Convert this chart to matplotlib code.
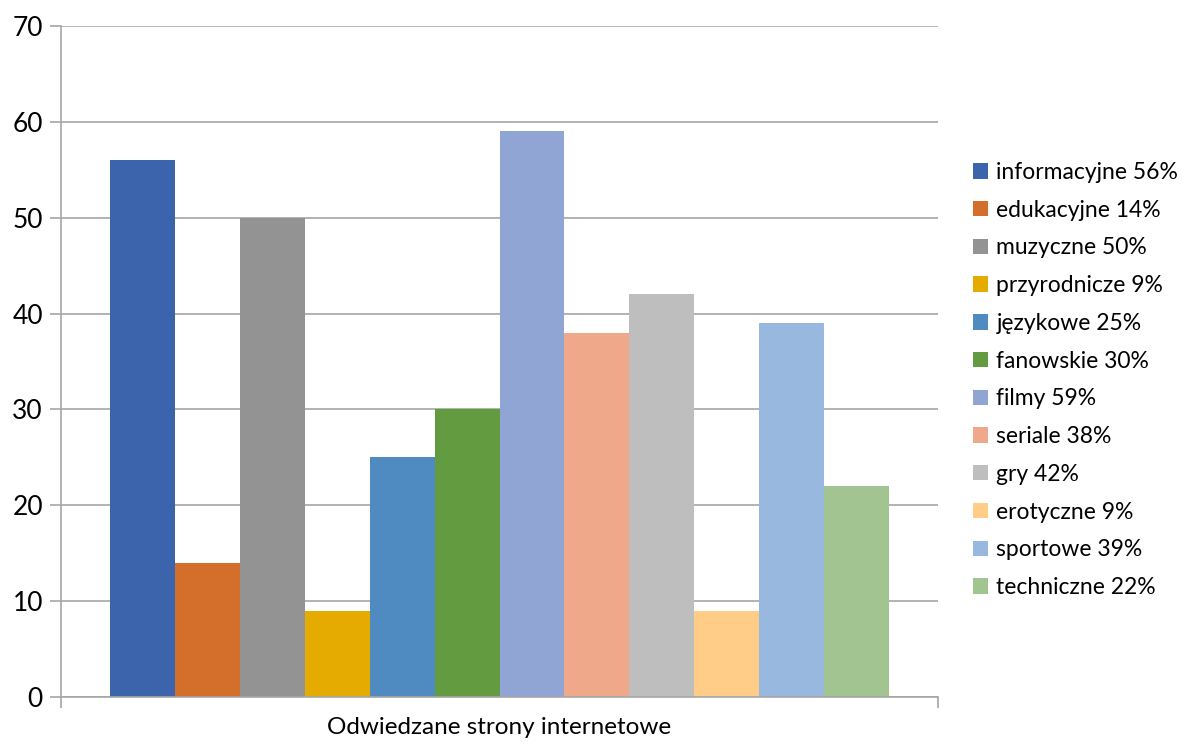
import matplotlib
matplotlib.use("Agg")
import matplotlib.pyplot as plt
import numpy as np

# data
categories = ["informacyjne", "edukacyjne", "muzyczne", "przyrodnicze", "językowe",
              "fanowskie", "filmy", "seriale", "gry", "erotyczne", "sportowe", "techniczne"]
values = [56, 14, 50, 9, 25, 30, 59, 38, 42, 9, 39, 22]
colors = ["#3C64AD", "#D46F2B", "#939393", "#E5AB00", "#4F8BC0", "#629B40",
          "#91A5D5", "#F0A88B", "#BEBEBE", "#FFCD88", "#98B8E0", "#A2C490"]
yticks = [0, 10, 20, 30, 40, 50, 60, 70]
xlabel = "Odwiedzane strony internetowe"

plt.rcParams['font.family'] = ['Lato', 'DejaVu Sans']

fig = plt.figure(figsize=(11.92, 7.47), dpi=100)
ax = fig.add_axes([61/1192, 1-697/747, (938-61)/1192, (697-26)/747])

group = 0.889
w = group / len(values)
for i, (c, v, col) in enumerate(zip(categories, values, colors)):
    ax.bar(-group/2 + w*(i+0.5), v, width=w, color=col, label=f"{c} {v}%", zorder=2)

ax.set_xlim(-0.5, 0.5)
ax.set_ylim(0, 70)
ax.set_yticks(yticks)
ax.set_xticks([-0.5, 0.5])
ax.set_xticklabels(["", ""])
ax.grid(axis='y', color='#A6A6A6', linewidth=1.2, zorder=0)
for s in ['top', 'right']:
    ax.spines[s].set_visible(False)
for s in ['left', 'bottom']:
    ax.spines[s].set_color('#A6A6A6')
    ax.spines[s].set_linewidth(1.2)
ax.tick_params(axis='y', length=8, width=1.2, color='#A6A6A6', labelsize=19, pad=5)
ax.tick_params(axis='x', length=8, width=1.2, color='#A6A6A6')
ax.set_xlabel(xlabel, fontsize=17.5, labelpad=3)

ax.legend(loc='center left', bbox_to_anchor=(962/1192, 1-380/747),
          bbox_transform=fig.transFigure, frameon=False, fontsize=16.5,
          handlelength=0.65, handleheight=0.65, handletextpad=0.35,
          labelspacing=0.73, borderpad=0)

fig.savefig("out.png", dpi=100)
